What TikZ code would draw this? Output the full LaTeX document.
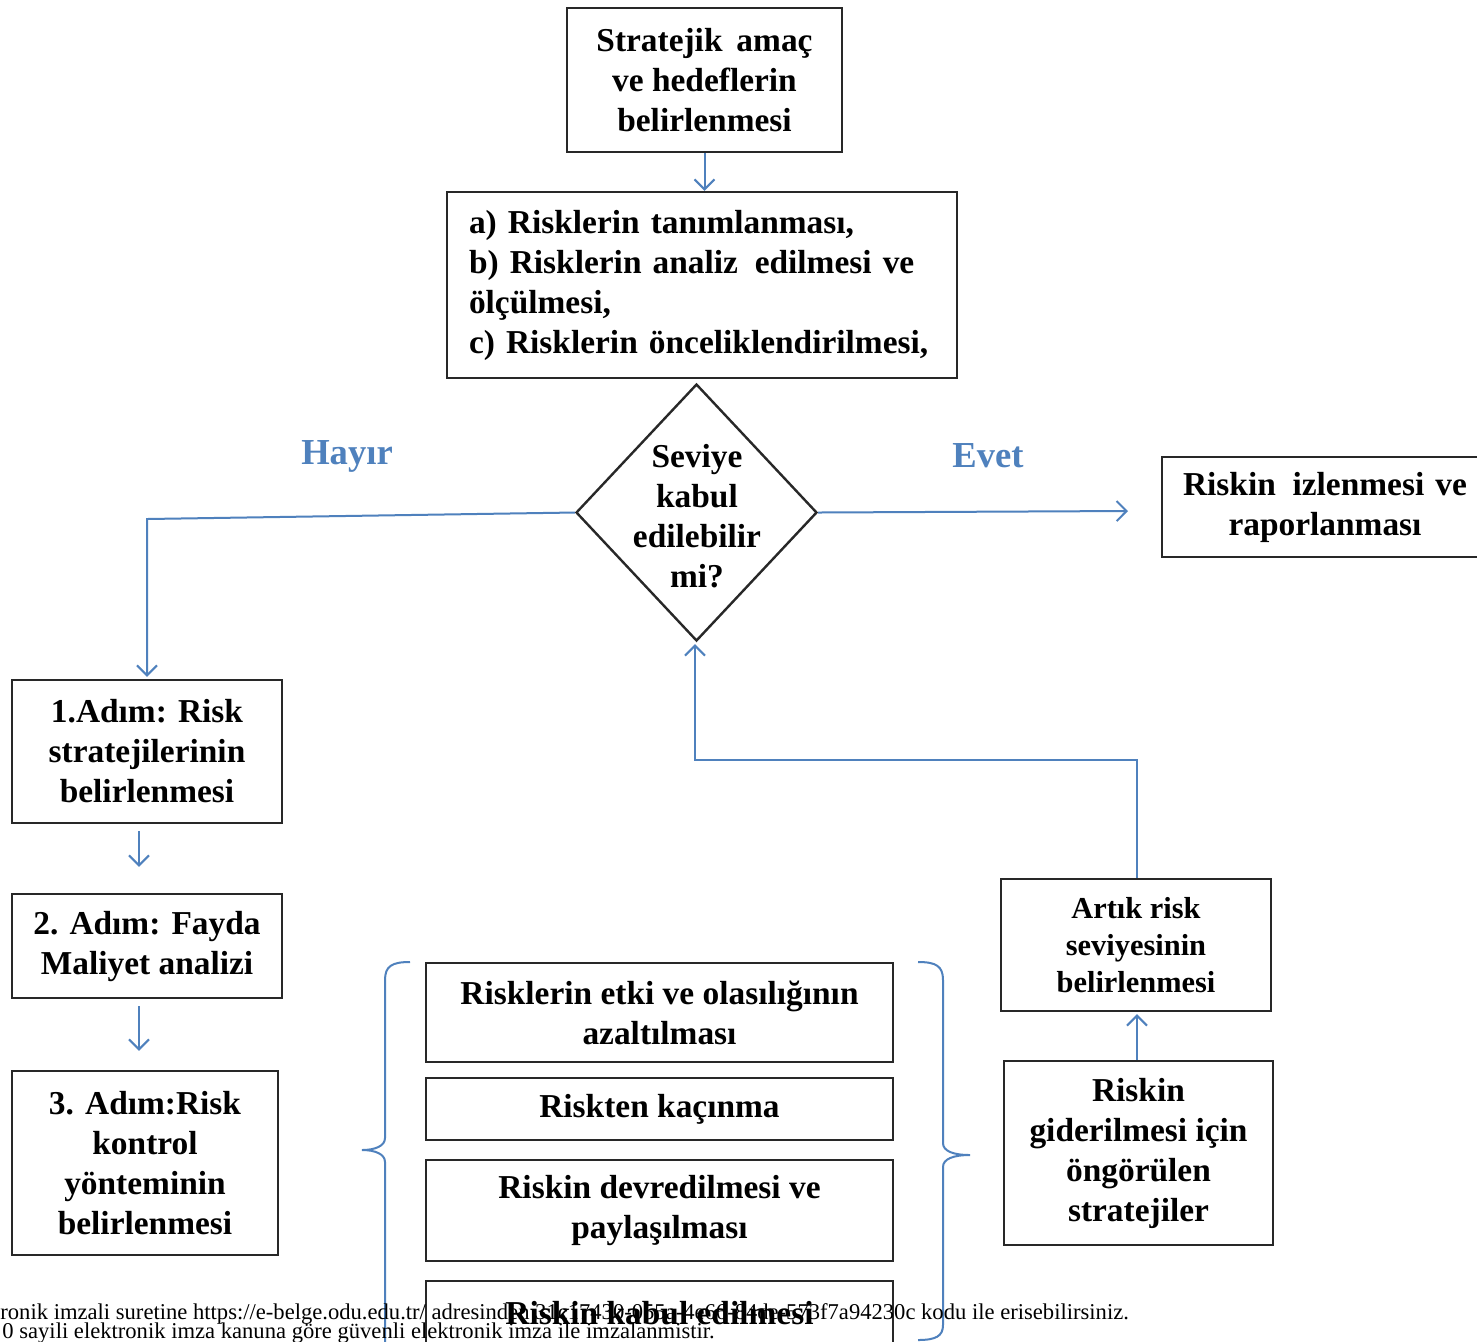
\documentclass[tikz,border=0pt]{standalone}
\usepackage{fontspec}
\setmainfont{Liberation Serif}
\usetikzlibrary{arrows.meta,shapes.geometric}
\definecolor{lineblue}{RGB}{79,129,189}
\definecolor{boxline}{RGB}{40,40,40}
\tikzset{
  box/.style={draw=boxline,line width=1.2pt,align=center,inner sep=0pt,
    font=\bfseries\fontsize{16.7}{20}\selectfont},
  plain/.style={inner sep=0pt,align=center,font=\bfseries\fontsize{16.7}{20}\selectfont},
  conn/.style={draw=lineblue,line width=1pt,-{Straight Barb[length=5pt,width=10pt]}},
  answer/.style={text=lineblue,font=\bfseries\fontsize{18.3}{20}\selectfont,inner sep=0pt},
  brace/.style={draw=lineblue,line width=1pt},
  footer/.style={inner sep=0pt,anchor=west,font=\fontsize{11.3}{12}\selectfont}
}
\begin{document}
\begin{tikzpicture}[x=0.5pt,y=-0.5pt]
\useasboundingbox (0,0) rectangle (1477,1341);
\clip (0,0) rectangle (1477,1341);
\fill[white] (0,0) rectangle (1477,1341);

% top boxes
\node[box,minimum width=137.5pt,minimum height=72pt] (b1) at (704.5,80)
  {Stratejik\, amaç\\ve hedeflerin\\belirlenmesi};
\node[box,minimum width=255pt,minimum height=93pt,align=left,text width=233pt,inner xsep=11pt] (b2) at (702,285)
  {a) Risklerin tanımlanması,\\b) Risklerin analiz\, edilmesi ve\\ölçülmesi,\\c) Risklerin önceliklendirilmesi,};

% decision
\node[draw=boxline,line width=1.2pt,diamond,minimum width=120.5pt,minimum height=128.5pt,inner sep=0pt] (dia) at (696.5,512.5) {};
\node[plain] (diat) at (697,516) {Seviye\\kabul\\edilebilir\\mi?};

\node[answer] (hayir) at (347,456) {Hayır};
\node[answer] (evet) at (988,456) {Evet};

\node[box,minimum width=163pt,minimum height=50pt,text width=163pt] (izle) at (1325,507)
  {Riskin\, izlenmesi ve\\raporlanması};

% left steps
\node[box,minimum width=135pt,minimum height=71.5pt] (s1) at (147,751.5)
  {1.Adım: Risk\\stratejilerinin\\belirlenmesi};
\node[box,minimum width=135pt,minimum height=52pt] (s2) at (147,946)
  {2. Adım: Fayda\\Maliyet analizi};
\node[box,minimum width=133pt,minimum height=92pt] (s3) at (145,1163)
  {3. Adım:Risk\\kontrol\\yönteminin\\belirlenmesi};

% middle strategies
\node[box,minimum width=233.5pt,minimum height=49.5pt] (mA) at (659.5,1012.5)
  {Risklerin etki ve olasılığının\\azaltılması};
\node[box,minimum width=233.5pt,minimum height=31pt] (mB) at (659.5,1109)
  {Riskten kaçınma};
\node[box,minimum width=233.5pt,minimum height=50.5pt] (mC) at (659.5,1210.5)
  {Riskin devredilmesi ve\\paylaşılması};
\node[box,minimum width=233.5pt,minimum height=49.5pt] (mD) at (659.5,1330.5) {};
\node[plain] (mDt) at (659.5,1313) {Riskin kabul edilmesi};

% right boxes
\node[box,minimum width=135pt,minimum height=66pt,font=\bfseries\fontsize{15.2}{18.5}\selectfont] (ar) at (1136,945)
  {Artık risk\\seviyesinin\\belirlenmesi};
\node[box,minimum width=134.5pt,minimum height=92pt] (gs) at (1138.5,1153)
  {Riskin\\giderilmesi için\\öngörülen\\stratejiler};

% braces
\path[brace] (410,962) .. controls (392,962) and (385,966) .. (385,980)
  -- (385,1138) .. controls (385,1146) and (375,1150) .. (362,1150)
  .. controls (375,1150) and (385,1154) .. (385,1162) -- (385,1360);
\path[brace] (918,962) .. controls (936,962) and (943,966) .. (943,980)
  -- (943,1143) .. controls (943,1151) and (953,1155) .. (970,1155)
  .. controls (953,1155) and (943,1159) .. (943,1167) -- (943,1325)
  .. controls (943,1336) and (936,1340) .. (918,1340);

% connectors
\coordinate (hc) at (147,519);
\coordinate (ee) at (1128,511);
\coordinate (rc1) at (1137,760);
\coordinate (rc2) at (695,760);
\draw[conn] (b1.south) -- (b1.south |- b2.north);
\draw[conn] (dia.west) -- (hc) -- ([yshift=1pt]s1.north);
\draw[conn] (dia.east) -- (ee);
\draw[conn] ([xshift=-4pt,yshift=-3.5pt]s1.south) -- ([xshift=-4pt,yshift=13pt]s2.north);
\draw[conn] ([xshift=-4pt,yshift=-3.5pt]s2.south) -- ([xshift=-3pt,yshift=9.5pt]s3.north);
\draw[conn] ([xshift=-0.75pt]gs.north) -- ([xshift=0.5pt,yshift=-1pt]ar.south);
\draw[conn] ([xshift=0.5pt]ar.north) -- (rc1) -- (rc2) -- ([xshift=-0.75pt,yshift=-1pt]dia.south);

% footer
\node[footer] (f1) at (0,1314) {ronik imzali suretine https://e-belge.odu.edu.tr/ adresinden 31c17430-055a-4e66-84de-573f7a94230c kodu ile erisebilirsiniz.};
\node[footer] (f2) at (2,1333) {0 sayili elektronik imza kanuna göre güvenli elektronik imza ile imzalanmistir.};
\end{tikzpicture}
\end{document}
